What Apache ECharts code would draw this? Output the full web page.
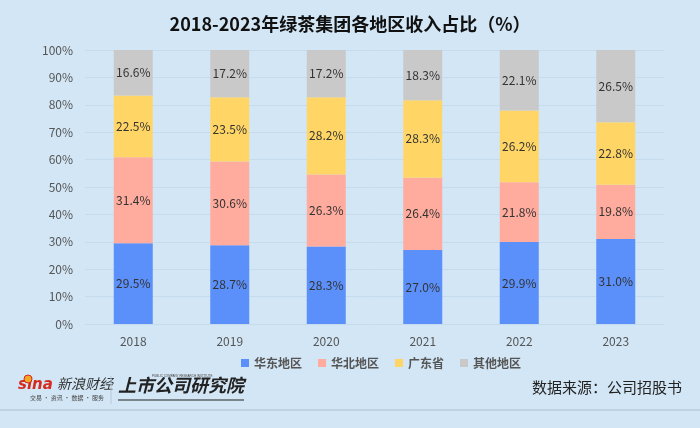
<!DOCTYPE html>
<html>
<head>
<meta charset="utf-8">
<script src="https://cdn.jsdelivr.net/npm/echarts@6/dist/echarts.min.js"></script>
<style>
html,body{margin:0;padding:0;background:#d3e6f5;}
#c{width:700px;height:428px;}
</style>
</head>
<body>
<div id="c"></div>
<script>
var years = ['2018','2019','2020','2021','2022','2023'];
var seriesNames = ['华东地区','华北地区','广东省','其他地区'];
var huadong = [29.5, 28.7, 28.3, 27.0, 29.9, 31.0];
var huabei = [31.4, 30.6, 26.3, 26.4, 21.8, 19.8];
var guangdong = [22.5, 23.5, 28.2, 28.3, 26.2, 22.8];
var other = [16.6, 17.2, 17.2, 18.3, 22.1, 26.5];
var yTicks = ['0%','10%','20%','30%','40%','50%','60%','70%','80%','90%','100%'];

var colors = ['#5b8ff9','#ffab9d','#ffd666','#c9c9c9'];
var dataSets = [huadong, huabei, guangdong, other];

var chart = echarts.init(document.getElementById('c'), null, {renderer:'canvas'});
var fontFam = '"Noto Sans CJK SC","Microsoft YaHei",sans-serif';

var series = seriesNames.map(function(n,i){
  return {
    name: n,
    type: 'bar',
    stack: 'total',
    barWidth: 39,
    data: dataSets[i],
    itemStyle: {color: colors[i]},
    label: {
      show: true,
      position: 'inside',
      formatter: function(p){ return p.value.toFixed(1) + '%'; },
      color: '#333',
      fontSize: 12,
      fontFamily: fontFam
    }
  };
});

chart.setOption({
  backgroundColor: '#d3e6f5',
  animation: false,
  color: colors,
  title: {
    text: '2018-2023年绿茶集团各地区收入占比（%）',
    left: 'center',
    top: 10,
    textStyle: {fontSize: 18, fontWeight: 'bold', color: '#111', fontFamily: fontFam}
  },
  grid: {left: 85, right: 36, top: 50, bottom: 104},
  legend: {
    left: 236,
    top: 352,
    itemWidth: 8,
    itemHeight: 8,
    itemGap: 16,
    icon: 'rect',
    textStyle: {fontSize: 12, fontWeight: 'bold', color: '#555', fontFamily: fontFam},
    data: seriesNames
  },
  xAxis: {
    type: 'category',
    data: years,
    axisLine: {show: false},
    axisTick: {show: false},
    axisLabel: {color: '#555', fontSize: 12, margin: 11, fontFamily: fontFam}
  },
  yAxis: {
    type: 'value',
    min: 0,
    max: 100,
    interval: 10,
    axisLine: {show: false},
    axisTick: {show: false},
    axisLabel: {
      color: '#555', fontSize: 12, margin: 12, fontFamily: fontFam,
      formatter: function(v){ return yTicks[Math.round(v/10)]; }
    },
    splitLine: {lineStyle: {color: '#c5dcee', width: 1}}
  },
  series: series,
  graphic: [
    {type:'line', shape:{x1:0,y1:410,x2:700,y2:410}, style:{stroke:'#a8bfd2', lineWidth:1}},
    {type:'text', left:18, top:378, style:{text:'sina', font:'italic bold 15px "DejaVu Sans",sans-serif', fill:'#d52b1e'}},
    {type:'circle', shape:{cx:28, cy:379, r:4}, style:{fill:'#f5a623', stroke:'#d52b1e', lineWidth:1}},
    {type:'text', left:57, top:377, style:{text:'新浪财经', font:'italic 14px "Noto Sans CJK SC",sans-serif', fill:'#333'}},
    {type:'text', left:30, top:395, style:{text:'交易 · 资讯 · 数据 · 服务', font:'6px "Noto Sans CJK SC",sans-serif', fill:'#444'}},
    {type:'line', shape:{x1:111,y1:376,x2:111,y2:404}, style:{stroke:'#b7c8d6', lineWidth:1}},
    {type:'text', left:118, top:376, style:{text:'上市公司研究院', font:'italic bold 18px "Noto Sans CJK SC",sans-serif', fill:'#222'}},
    {type:'text', left:152, top:375, style:{text:'PUBLIC COMPANY RESEARCH INSTITUTE', font:'3px sans-serif', fill:'#444'}},
    {type:'line', shape:{x1:118,y1:400,x2:244,y2:400}, style:{stroke:'#222', lineWidth:1}},
    {type:'text', right:18, top:380, style:{text:'数据来源：公司招股书', font:'15px "Noto Sans CJK SC",sans-serif', fill:'#222'}}
  ]
});
</script>
</body>
</html>
